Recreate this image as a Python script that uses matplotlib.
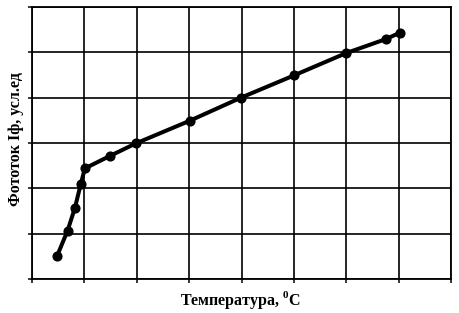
import matplotlib
matplotlib.use('Agg')
import matplotlib.pyplot as plt

temperature = [0.48, 0.68, 0.82, 0.93, 1.01, 1.48, 1.98, 3.01, 3.99, 5.0, 5.99, 6.75, 7.02]
photocurrent = [0.51, 1.07, 1.57, 2.09, 2.44, 2.71, 2.99, 3.49, 4.0, 4.49, 4.98, 5.29, 5.43]

x_ticks = [0, 1, 2, 3, 4, 5, 6, 7, 8]
y_ticks = [0, 1, 2, 3, 4, 5, 6]

plt.rcParams['font.family'] = ['Liberation Serif', 'DejaVu Serif']
plt.rcParams['mathtext.fontset'] = 'custom'
plt.rcParams['mathtext.bf'] = 'Liberation Serif:bold'
plt.rcParams['mathtext.rm'] = 'Liberation Serif:bold'

fig = plt.figure(figsize=(4.59, 3.13), dpi=100)
ax = fig.add_axes([0.0697, 0.1086, 0.9129, 0.869])

# thick line with round markers
ax.plot(temperature, photocurrent, color='black', lw=2.9,
        marker='o', markersize=6.3, zorder=3)

ax.set_xlim(0, 8)
ax.set_ylim(0, 6)
ax.set_xticks(x_ticks)
ax.set_yticks(y_ticks)
ax.set_xticklabels([])
ax.set_yticklabels([])
ax.tick_params(direction='out', length=3, width=1.1, color='black')
ax.grid(True, color='black', lw=1.2)
for s in ax.spines.values():
    s.set_linewidth(1.3)

ax.set_xlabel('Температура, $^\\mathbf{0}$C', fontsize=11.5, fontweight='bold')
ax.set_ylabel('Фототок Iф, усл.ед', fontsize=11.5, fontweight='bold')
ax.xaxis.set_label_coords(0.499, -0.035)
ax.yaxis.set_label_coords(-0.02, 0.515)

fig.savefig('out.png', dpi=100)
